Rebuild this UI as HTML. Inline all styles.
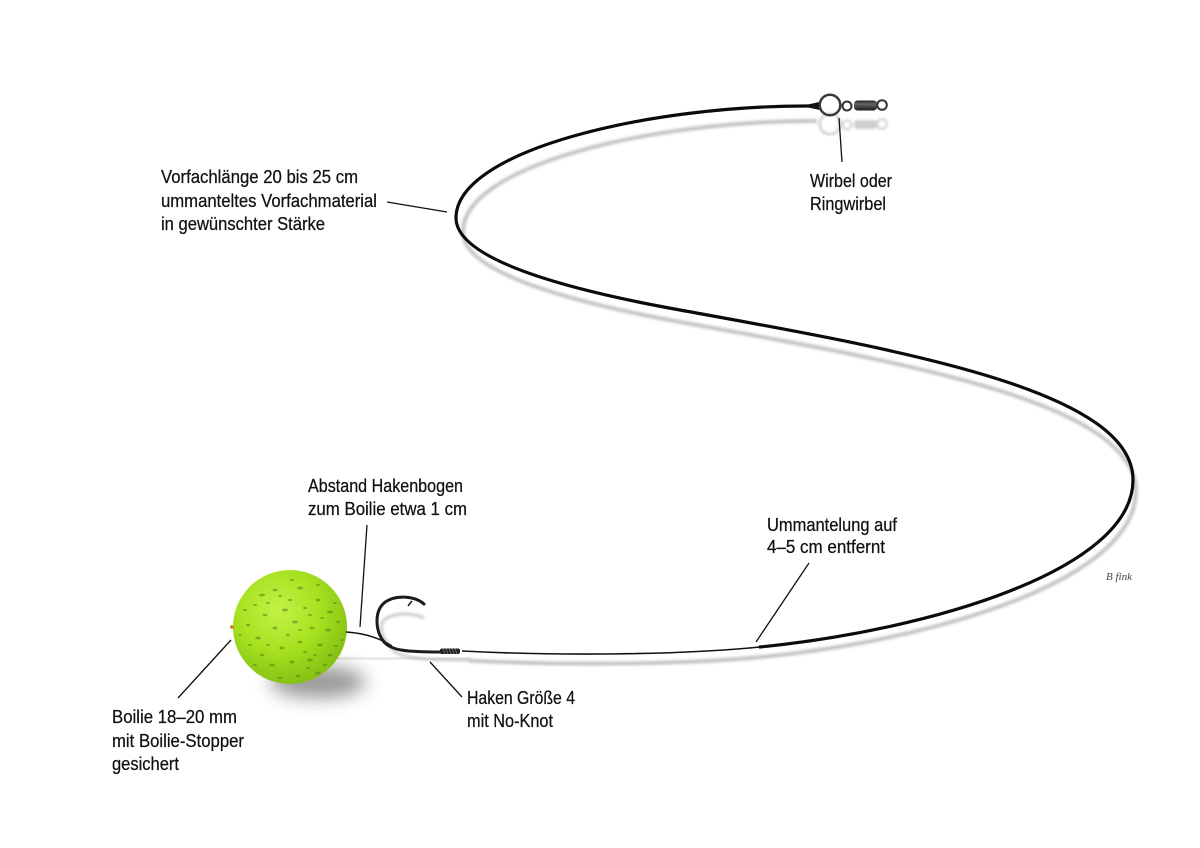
<!DOCTYPE html>
<html>
<head>
<meta charset="utf-8">
<style>
  html,body{margin:0;padding:0;background:#fff;}
  svg{display:block;}
  text{font-family:"Liberation Sans Narrow","Liberation Sans",sans-serif;font-size:18px;fill:#111;stroke:#111;stroke-width:0.25;}
</style>
</head>
<body>
<svg width="1200" height="848" viewBox="0 0 1200 848" xmlns="http://www.w3.org/2000/svg">
  <defs>
    <filter id="b1" x="-10%" y="-10%" width="120%" height="120%"><feGaussianBlur stdDeviation="1.3"/></filter>
    <filter id="b2" x="-50%" y="-50%" width="200%" height="200%"><feGaussianBlur stdDeviation="2"/></filter>
    <filter id="b8" x="-80%" y="-80%" width="260%" height="260%"><feGaussianBlur stdDeviation="9"/></filter>
    <radialGradient id="ball" cx="40%" cy="35%" r="65%">
      <stop offset="0" stop-color="#c2f247"/>
      <stop offset="0.55" stop-color="#a7e221"/>
      <stop offset="1" stop-color="#86c214"/>
    </radialGradient>
    <linearGradient id="barrel" x1="0" y1="0" x2="0" y2="1">
      <stop offset="0" stop-color="#222"/>
      <stop offset="0.35" stop-color="#666"/>
      <stop offset="1" stop-color="#1a1a1a"/>
    </linearGradient>
    <clipPath id="ballclip"><circle cx="290" cy="627" r="57"/></clipPath>
  </defs>

  <!-- line shadow -->
  <g transform="matrix(0.994 0 0 0.99 9.7 16.1)" filter="url(#b1)">
    <path d="M 812,106 C 650,105 456,150 456,218 C 456,262 580,292 680,310 C 900,350 1133,390 1133,480 C 1133,570 930,630 760,647 C 680,655 560,656 462,651"
          fill="none" stroke="#c4c4c4" stroke-width="4"/>
  </g>
  <!-- hair shadow under boilie -->
  <path d="M 300,658 L 470,659" stroke="#d6d6d6" stroke-width="3" filter="url(#b1)"/>

  <!-- hook shadow -->
  <g filter="url(#b1)" opacity="0.75">
    <path d="M 424,618 C 412,612 392,613 384,620 C 378,626 382,640 395,652 C 405,658 420,660 470,660" fill="none" stroke="#bbb" stroke-width="3"/>
  </g>

  <!-- swivel reflection -->
  <g opacity="0.28" filter="url(#b1)" transform="translate(0,19)">
    <circle cx="830" cy="105" r="10.3" fill="none" stroke="#555" stroke-width="2.5"/>
    <circle cx="847" cy="106" r="4.5" fill="none" stroke="#555" stroke-width="2"/>
    <rect x="854" y="101" width="23" height="9" rx="3" fill="#555"/>
    <circle cx="882" cy="105" r="4.8" fill="none" stroke="#555" stroke-width="2"/>
  </g>

  <!-- main leader -->
  <path d="M 812,106 C 650,105 456,150 456,218 C 456,262 580,292 680,310 C 900,350 1133,390 1133,480 C 1133,570 930,630 760,647"
        fill="none" stroke="#0b0b0b" stroke-width="3.2" stroke-linecap="round"/>
  <path d="M 760,647 C 680,655 560,656 462,651" fill="none" stroke="#111" stroke-width="1.6"/>

  <!-- swivel -->
  <path d="M 808,104.5 L 819,102 L 820,110 L 808,107.5 Z" fill="#111"/>
  <circle cx="830" cy="105" r="10.3" fill="none" stroke="#3a3a3a" stroke-width="2.5"/>
  <circle cx="847" cy="106" r="4.5" fill="none" stroke="#333" stroke-width="2"/>
  <rect x="854" y="100.5" width="23" height="10" rx="3.5" fill="url(#barrel)"/>
  <circle cx="882" cy="105" r="4.8" fill="none" stroke="#333" stroke-width="2"/>

  <!-- boilie shadow -->
  <ellipse cx="318" cy="682" rx="48" ry="16" fill="#444" opacity="0.55" filter="url(#b8)"/>

  <!-- boilie -->
  <circle cx="290" cy="627" r="57" fill="url(#ball)"/>
  <g clip-path="url(#ballclip)" fill="#5f7f12" opacity="0.55">
    <ellipse cx="262" cy="595" rx="3" ry="1.5"/><ellipse cx="275" cy="590" rx="2.5" ry="1.2"/>
    <ellipse cx="300" cy="588" rx="3" ry="1.5"/><ellipse cx="318" cy="600" rx="2.5" ry="1.5"/>
    <ellipse cx="330" cy="612" rx="3" ry="1.5"/><ellipse cx="305" cy="608" rx="2" ry="1.2"/>
    <ellipse cx="285" cy="610" rx="3" ry="1.5"/><ellipse cx="265" cy="615" rx="2.5" ry="1.2"/>
    <ellipse cx="248" cy="625" rx="2" ry="1.2"/><ellipse cx="258" cy="638" rx="3" ry="1.5"/>
    <ellipse cx="275" cy="628" rx="2.5" ry="1.5"/><ellipse cx="295" cy="622" rx="3" ry="1.5"/>
    <ellipse cx="312" cy="628" rx="2.5" ry="1.3"/><ellipse cx="328" cy="630" rx="3" ry="1.5"/>
    <ellipse cx="338" cy="622" rx="2" ry="1.2"/><ellipse cx="320" cy="645" rx="3" ry="1.5"/>
    <ellipse cx="300" cy="642" rx="2.5" ry="1.3"/><ellipse cx="282" cy="648" rx="3" ry="1.5"/>
    <ellipse cx="262" cy="655" rx="2.5" ry="1.3"/><ellipse cx="250" cy="645" rx="2" ry="1"/>
    <ellipse cx="272" cy="665" rx="3" ry="1.5"/><ellipse cx="292" cy="662" rx="2.5" ry="1.5"/>
    <ellipse cx="310" cy="660" rx="3" ry="1.5"/><ellipse cx="330" cy="655" rx="2.5" ry="1.3"/>
    <ellipse cx="318" cy="673" rx="3" ry="1.5"/><ellipse cx="298" cy="676" rx="2.5" ry="1.3"/>
    <ellipse cx="280" cy="678" rx="2" ry="1.2"/><ellipse cx="342" cy="640" rx="1.5" ry="1"/>
    <ellipse cx="245" cy="610" rx="2" ry="1"/><ellipse cx="290" cy="600" rx="2" ry="1.2"/>
    <ellipse cx="310" cy="615" rx="2" ry="1"/><ellipse cx="268" cy="603" rx="2" ry="1"/>
    <ellipse cx="335" cy="603" rx="2" ry="1"/><ellipse cx="288" cy="635" rx="2" ry="1.2"/>
    <ellipse cx="255" cy="665" rx="2" ry="1"/><ellipse cx="305" cy="652" rx="2" ry="1"/>
    <ellipse cx="325" cy="665" rx="2" ry="1.2"/><ellipse cx="292" cy="580" rx="2" ry="1"/>
    <ellipse cx="318" cy="585" rx="2" ry="1"/><ellipse cx="240" cy="635" rx="1.5" ry="1"/>
    <ellipse cx="280" cy="596" rx="2" ry="1"/><ellipse cx="322" cy="618" rx="2" ry="1"/>
    <ellipse cx="268" cy="645" rx="2" ry="1"/><ellipse cx="308" cy="668" rx="2" ry="1"/>
    <ellipse cx="336" cy="646" rx="2" ry="1"/><ellipse cx="255" cy="605" rx="2" ry="1"/>
    <ellipse cx="300" cy="630" rx="1.8" ry="1"/><ellipse cx="315" cy="655" rx="1.8" ry="1"/>
  </g>
  <!-- stopper -->
  <circle cx="232" cy="627" r="2" fill="#d08a2a"/>

  <!-- hair to hook -->
  <path d="M 346,632 C 362,633 378,637 392,646" fill="none" stroke="#111" stroke-width="1.5"/>

  <!-- hook -->
  <path d="M 424,604 C 415,596 395,594 384,603 C 374,612 375,632 385,643 C 392,650 405,652 440,652 L 448,652"
        fill="none" stroke="#1c1c1c" stroke-width="3" stroke-linecap="round"/>
  <path d="M 412,601 L 408,606" stroke="#1c1c1c" stroke-width="1.5"/>
  <!-- knot -->
  <rect x="440" y="648.5" width="20" height="5.5" rx="2" fill="#222"/>
  <g stroke="#777" stroke-width="0.8">
    <line x1="443" y1="648.5" x2="445" y2="654"/><line x1="446" y1="648.5" x2="448" y2="654"/>
    <line x1="449" y1="648.5" x2="451" y2="654"/><line x1="452" y1="648.5" x2="454" y2="654"/>
    <line x1="455" y1="648.5" x2="457" y2="654"/>
  </g>

  <!-- connectors -->
  <g stroke="#111" stroke-width="1.3" fill="none">
    <line x1="387" y1="202" x2="447" y2="212"/>
    <line x1="839" y1="118" x2="842" y2="162"/>
    <line x1="367" y1="525" x2="360" y2="627"/>
    <line x1="809" y1="563" x2="756" y2="642"/>
    <line x1="231" y1="640" x2="178" y2="698"/>
    <line x1="430" y1="662" x2="462" y2="697"/>
  </g>

  <!-- labels -->
  <text x="161" y="183" textLength="197" lengthAdjust="spacingAndGlyphs">Vorfachlänge 20 bis 25 cm</text>
  <text x="161" y="207" textLength="216" lengthAdjust="spacingAndGlyphs">ummanteltes Vorfachmaterial</text>
  <text x="161" y="230" textLength="164" lengthAdjust="spacingAndGlyphs">in gewünschter Stärke</text>

  <text x="810" y="187" textLength="82" lengthAdjust="spacingAndGlyphs">Wirbel oder</text>
  <text x="810" y="210" textLength="76" lengthAdjust="spacingAndGlyphs">Ringwirbel</text>

  <text x="308" y="492" textLength="155" lengthAdjust="spacingAndGlyphs">Abstand Hakenbogen</text>
  <text x="308" y="515" textLength="159" lengthAdjust="spacingAndGlyphs">zum Boilie etwa 1 cm</text>

  <text x="767" y="531" textLength="130" lengthAdjust="spacingAndGlyphs">Ummantelung auf</text>
  <text x="767" y="553" textLength="118" lengthAdjust="spacingAndGlyphs">4–5 cm entfernt</text>

  <text x="467" y="704" textLength="108" lengthAdjust="spacingAndGlyphs">Haken Größe 4</text>
  <text x="467" y="727" textLength="86" lengthAdjust="spacingAndGlyphs">mit No-Knot</text>

  <text x="112" y="723" textLength="125" lengthAdjust="spacingAndGlyphs">Boilie 18–20 mm</text>
  <text x="112" y="747" textLength="132" lengthAdjust="spacingAndGlyphs">mit Boilie-Stopper</text>
  <text x="112" y="770" textLength="67" lengthAdjust="spacingAndGlyphs">gesichert</text>

  <!-- signature -->
  <text x="1106" y="580" style="font-family:'Liberation Serif',serif;font-style:italic;font-size:11px;fill:#444;stroke:none;">B fink</text>
</svg>
</body>
</html>
